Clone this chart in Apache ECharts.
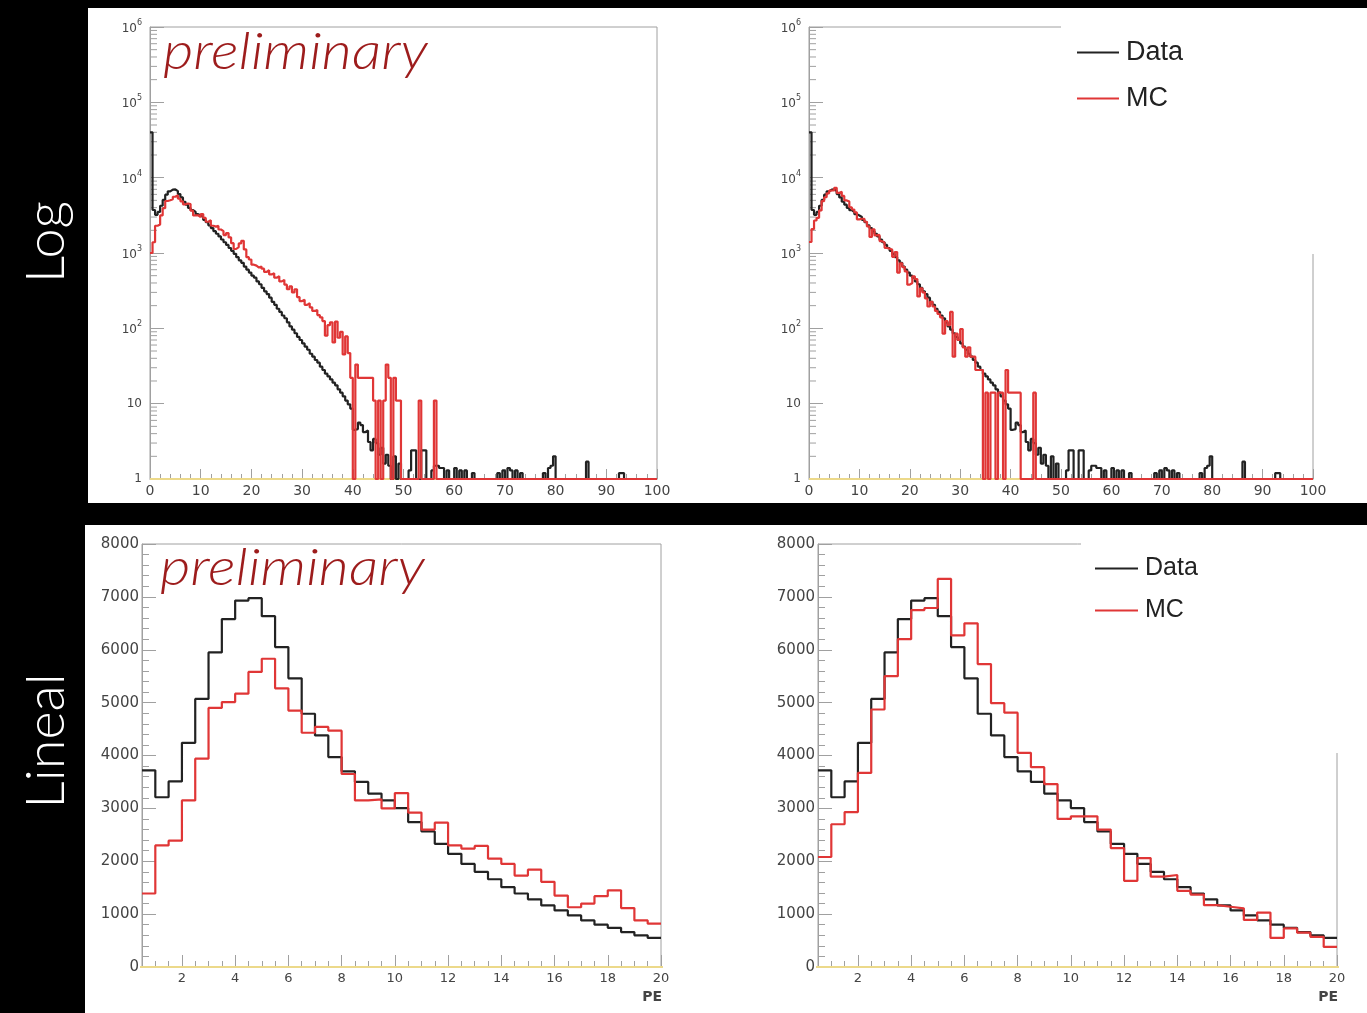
<!DOCTYPE html>
<html>
<head>
<meta charset="utf-8">
<script src="https://cdn.jsdelivr.net/npm/echarts@6/dist/echarts.min.js"></script>
<style>
  html, body { margin: 0; padding: 0; background: #000; }
  #main { width: 1367px; height: 1013px; }
</style>
</head>
<body>
<div id="main"></div>
<script>
// histograms in 0.5 PE bins, bin i covers [i*0.5, i*0.5+0.5)
const binWidth = 0.5;

// Data (same in all four panels)
const dataCounts = [
  40000, 3720, 3210, 3510, 4240, 5070, 5950, 6580, 6930, 6975,
  6635, 6050, 5460, 4790, 4380, 3970, 3700, 3500, 3280, 3150,
  3005, 2740, 2565, 2330, 2140, 1950, 1800, 1660, 1510, 1390,
  1280, 1165, 1070, 975, 880, 800, 740, 660, 600, 550,
  500, 470, 420, 385, 345, 310, 285, 255, 225, 205,
  182, 165, 148, 136, 120, 106, 96, 86, 77, 70,
  63, 57, 52, 46, 42, 38, 35, 31, 28, 25,
  23, 21, 19, 17.5, 15.5, 14, 12.5, 11, 9.8, 8.6,
  4.5, 4.6, 5.6, 5.2, 4.2, 4.4, 3.1, 2.4, 3.4, 3,
  2.1, 2.6, 1.6, 2.1, 1.5, 1, 2, 1, 1.6, 1,
  0, 1, 1.3, 2.4, 2.4, 1, 0, 2.4, 2.4, 1,
  1, 1.3, 1.5, 1.5, 1.4, 1.4, 1, 1.3, 1, 1,
  1.4, 1, 1.3, 1, 1.3, 0, 1, 1.2, 0, 1,
  0, 1, 0, 0, 1, 0, 1, 1.2, 1, 1.3,
  1, 1.4, 1.3, 1, 1.3, 1, 1.2, 0, 1, 0,
  1, 0, 1, 0, 1, 1.2, 1, 1.4, 1.5, 2,
  1, 0, 1, 0, 0, 1, 0, 1, 0, 1,
  0, 1, 1.7, 1, 0, 1, 0, 0, 1, 0,
  1, 0, 1, 0, 1, 1.2, 1.2, 1, 0, 1,
  0, 0, 1, 0, 0, 1, 0, 0, 1, 0
];

// MC, left column
const mcLeftCounts = [
  1000, 1390, 2300, 2390, 3150, 3940, 4900, 5010, 5170, 5580,
  5830, 5270, 4850, 4430, 4540, 4470, 3650, 3150, 3170, 3000,
  3290, 2920, 2600, 2730, 2300, 2240, 2290, 2050, 1950, 1730,
  1840, 1610, 1350, 1130, 1200, 1340, 1450, 1115, 880, 820,
  700, 680, 640, 660, 620, 560, 590, 520, 540, 470,
  490, 420, 440, 380, 330, 360, 300, 330, 260, 230,
  240, 205, 215, 190, 170, 175, 150, 140, 125, 80,
  110, 120, 65, 123, 75, 90, 45, 78, 47, 22,
  0, 33, 22, 22, 22, 22, 22, 22, 11, 0,
  11, 0, 11, 33, 22, 0, 22, 11, 11, 0,
  0, 0, 0, 0, 0, 0, 11, 0, 0, 0,
  0, 0, 11, 0, 0, 0, 0, 0, 0, 0,
  0, 0, 0, 0, 0, 0, 0, 0, 0, 0,
  0, 0, 0, 0, 0, 0, 0, 0, 0, 0,
  0, 0, 0, 0, 0, 0, 0, 0, 0, 0,
  0, 0, 0, 0, 0, 0, 0, 0, 0, 0,
  0, 0, 0, 0, 0, 0, 0, 0, 0, 0,
  0, 0, 0, 0, 0, 0, 0, 0, 0, 0,
  0, 0, 0, 0, 0, 0, 0, 0, 0, 0,
  0, 0, 0, 0, 0, 0, 0, 0, 0, 0
];

// MC, right column
const mcRightCounts = [
  1400, 2080, 2700, 2930, 3670, 4870, 5500, 6200, 6750, 6790,
  7340, 6270, 6500, 5730, 4990, 4810, 4050, 3780, 3460, 2800,
  2850, 2850, 2600, 2250, 1630, 2060, 1710, 1740, 1440, 1370,
  1170, 1140, 1110, 890, 1030, 550, 730, 650, 570, 380,
  400, 490, 450, 265, 340, 300, 250, 195, 225, 195,
  170, 155, 140, 85, 125, 110, 165, 42, 85, 70,
  98, 56, 42, 56, 42, 42, 28, 28, 28, 0,
  14, 0, 14, 14, 0, 14, 14, 0, 28, 14,
  14, 14, 14, 14, 0, 0, 0, 0, 0, 14,
  0, 0, 0, 0, 0, 0, 0, 0, 0, 0,
  0, 0, 0, 0, 0, 0, 0, 0, 0, 0,
  0, 0, 0, 0, 0, 0, 0, 0, 0, 0,
  0, 0, 0, 0, 0, 0, 0, 0, 0, 0,
  0, 0, 0, 0, 0, 0, 0, 0, 0, 0,
  0, 0, 0, 0, 0, 0, 0, 0, 0, 0,
  0, 0, 0, 0, 0, 0, 0, 0, 0, 0,
  0, 0, 0, 0, 0, 0, 0, 0, 0, 0,
  0, 0, 0, 0, 0, 0, 0, 0, 0, 0,
  0, 0, 0, 0, 0, 0, 0, 0, 0, 0,
  0, 0, 0, 0, 0, 0, 0, 0, 0, 0
];

// empty (yellow) histogram, one wide bin
const bkgCounts = [0];
const bkgWidth = 100;

const linTicksMajor = [2, 4, 6, 8, 10, 12, 14, 16, 18, 20];

const frameColor = '#a0a0a0';
const labelColor = '#444';
const dataColor = '#222';
const mcColor = '#e03636';
const bkgColor = '#ecd98a';

// turn bin counts into points for a step line
function histSteps(counts, width, fromBin, toBin, floor) {
  const pts = [];
  for (let i = fromBin; i < toBin; i++) {
    let v = counts[i];
    if (floor !== undefined && v < floor) v = floor; // ROOT draws empty bins at the frame bottom
    pts.push([i * width, v]);
  }
  pts.push([toBin * width, pts[pts.length - 1][1]]);
  return pts;
}

function histSeries(name, color, grid, pts) {
  return {
    name: name, type: 'line', step: 'end', xAxisIndex: grid, yAxisIndex: grid,
    data: pts, symbol: 'none', clip: true, silent: true,
    itemStyle: { color: color },
    lineStyle: { color: color, width: 2.2 }
  };
}

// log minor ticks (2..9 per decade)
const logMinor = [];
for (let k = 0; k < 6; k++) {
  for (let m = 2; m <= 9; m++) logMinor.push([0, m * Math.pow(10, k)]);
}
function logMinorSeries(grid) {
  return {
    type: 'custom', xAxisIndex: grid, yAxisIndex: grid, silent: true,
    data: logMinor,
    renderItem: function (params, api) {
      const p = api.coord([0, api.value(1)]);
      return {
        type: 'line',
        shape: { x1: p[0], y1: p[1], x2: p[0] + 7, y2: p[1] },
        style: { stroke: frameColor, lineWidth: 1 }
      };
    }
  };
}

function logLabel(v) {
  const e = Math.round(Math.log10(v));
  if (e === 0) return '1';
  if (e === 1) return '10';
  return '{b|10}{s|' + e + '}';
}

const tickFont = 'DejaVu Sans';

function logX(grid) {
  return {
    type: 'value', gridIndex: grid, min: 0, max: 100, interval: 10,
    axisLine: { lineStyle: { color: frameColor } },
    axisTick: { inside: true, length: 10, lineStyle: { color: frameColor } },
    minorTick: { show: true, splitNumber: 5, length: 5, lineStyle: { color: frameColor } },
    splitLine: { show: false },
    axisLabel: { color: labelColor, fontSize: 14, fontFamily: tickFont, margin: 5 }
  };
}
function linX(grid) {
  return {
    type: 'value', gridIndex: grid, min: 0.5, max: 20, interval: 0.5,
    axisLine: { lineStyle: { color: frameColor } },
    axisTick: { inside: true, length: 6, lineStyle: { color: frameColor } },
    splitLine: { show: false },
    axisLabel: {
      color: labelColor, fontSize: 13, fontFamily: tickFont, margin: 5,
      formatter: function (v) { return v % 2 === 0 ? String(v) : ''; }
    }
  };
}
function linXMajor(grid) {
  return {
    type: 'value', gridIndex: grid, min: 0.5, max: 20, position: 'bottom',
    axisLine: { show: false },
    axisTick: { inside: true, length: 12, customValues: linTicksMajor, lineStyle: { color: frameColor } },
    axisLabel: { show: false },
    splitLine: { show: false }
  };
}
function logY(grid) {
  return {
    type: 'log', logBase: 10, gridIndex: grid, min: 1, max: 1e6,
    axisLine: { lineStyle: { color: frameColor } },
    axisTick: { inside: true, length: 14, lineStyle: { color: frameColor } },
    splitLine: { show: false },
    axisLabel: {
      color: labelColor, margin: 8, formatter: logLabel,
      fontSize: 12, fontFamily: tickFont,
      rich: {
        b: { fontSize: 12, fontFamily: tickFont, color: labelColor, lineHeight: 16, verticalAlign: 'bottom' },
        s: { fontSize: 8, fontFamily: tickFont, color: labelColor, lineHeight: 16, verticalAlign: 'top' }
      }
    }
  };
}
function linY(grid) {
  return {
    type: 'value', gridIndex: grid, min: 0, max: 8000, interval: 1000,
    axisLine: { lineStyle: { color: frameColor } },
    axisTick: { inside: true, length: 14, lineStyle: { color: frameColor } },
    minorTick: { show: true, splitNumber: 5, length: 7, lineStyle: { color: frameColor } },
    splitLine: { show: false },
    axisLabel: {
      color: labelColor, fontSize: 15, fontFamily: tickFont, margin: 3,
      formatter: function (v) { return String(v); }
    }
  };
}

const gridBox = { show: true, borderColor: frameColor, borderWidth: 1, backgroundColor: 'transparent' };

const series = [];
// top row, log scale
[[0, mcLeftCounts], [1, mcRightCounts]].forEach(function (p) {
  series.push(histSeries('bkg', bkgColor, p[0], histSteps(bkgCounts, bkgWidth, 0, 1, 1)));
  series.push(histSeries('Data', dataColor, p[0], histSteps(dataCounts, binWidth, 0, 200, 1)));
  series.push(histSeries('MC', mcColor, p[0], histSteps(p[1], binWidth, 0, 200, 1)));
  series.push(logMinorSeries(p[0]));
});
// bottom row, linear scale, 0.5..20 PE
[[2, mcLeftCounts], [3, mcRightCounts]].forEach(function (p) {
  series.push(histSeries('bkg', bkgColor, p[0], histSteps(bkgCounts, bkgWidth, 0, 1)));
  series.push(histSeries('Data', dataColor, p[0], histSteps(dataCounts, binWidth, 1, 40)));
  series.push(histSeries('MC', mcColor, p[0], histSteps(p[1], binWidth, 1, 40)));
});

const sideFont = '300 54px Lato';
const prelimFont = 'italic 300 52px Lato';

const option = {
  backgroundColor: '#000',
  animation: false,
  grid: [
    Object.assign({ left: 150, top: 27, width: 507, height: 452 }, gridBox),
    Object.assign({ left: 809, top: 27, width: 504, height: 452 }, gridBox),
    Object.assign({ left: 142, top: 544, width: 519, height: 423 }, gridBox),
    Object.assign({ left: 818, top: 544, width: 519, height: 423 }, gridBox)
  ],
  xAxis: [logX(0), logX(1), linX(2), linX(3),
    Object.assign(linXMajor(2), { gridIndex: 2 }), Object.assign(linXMajor(3), { gridIndex: 3 })],
  yAxis: [logY(0), logY(1), linY(2), linY(3)],
  legend: [
    {
      data: ['Data', 'MC'], orient: 'vertical', left: 1072, top: 34,
      itemWidth: 42, itemHeight: 2, itemGap: 19, icon: 'rect', selectedMode: false,
      textStyle: { fontSize: 27, color: '#222', fontFamily: 'Liberation Sans', padding: [0, 0, 0, 2] }
    },
    {
      data: ['Data', 'MC'], orient: 'vertical', left: 1090, top: 551,
      itemWidth: 43, itemHeight: 2, itemGap: 17, icon: 'rect', selectedMode: false,
      textStyle: { fontSize: 25, color: '#222', fontFamily: 'Liberation Sans', padding: [0, 0, 0, 2] }
    }
  ],
  graphic: {
    elements: [
      { type: 'rect', z: -10, shape: { x: 88, y: 8, width: 1279, height: 495 }, style: { fill: '#fff' } },
      { type: 'rect', z: -10, shape: { x: 85, y: 525, width: 1282, height: 488 }, style: { fill: '#fff' } },
      // legend boxes hide part of the frame, as in the original
      { type: 'rect', z: 3, shape: { x: 1061, y: 18, width: 262, height: 236 }, style: { fill: '#fff' } },
      { type: 'rect', z: 3, shape: { x: 1081, y: 536, width: 266, height: 217 }, style: { fill: '#fff' } },
      { type: 'text', z: 5, x: 47, y: 242, rotation: Math.PI / 2,
        style: { text: 'Log', fill: '#fff', font: sideFont, align: 'center', verticalAlign: 'middle' } },
      { type: 'text', z: 5, x: 47, y: 741, rotation: Math.PI / 2,
        style: { text: 'Lineal', fill: '#fff', font: sideFont, align: 'center', verticalAlign: 'middle' } },
      { type: 'text', z: 5, x: 163, y: 52, scaleX: 1.13,
        style: { text: 'preliminary', fill: '#9d1c1c', font: prelimFont, align: 'left', verticalAlign: 'middle' } },
      { type: 'text', z: 5, x: 160, y: 568, scaleX: 1.13,
        style: { text: 'preliminary', fill: '#9d1c1c', font: prelimFont, align: 'left', verticalAlign: 'middle' } },
      { type: 'text', z: 5, x: 662, y: 990,
        style: { text: 'PE', fill: labelColor, font: 'bold 14px "DejaVu Sans"', align: 'right', verticalAlign: 'top' } },
      { type: 'text', z: 5, x: 1338, y: 990,
        style: { text: 'PE', fill: labelColor, font: 'bold 14px "DejaVu Sans"', align: 'right', verticalAlign: 'top' } }
    ]
  },
  series: series
};

const chart = echarts.init(document.getElementById('main'), null, { renderer: 'canvas' });
chart.setOption(option);
</script>
</body>
</html>
